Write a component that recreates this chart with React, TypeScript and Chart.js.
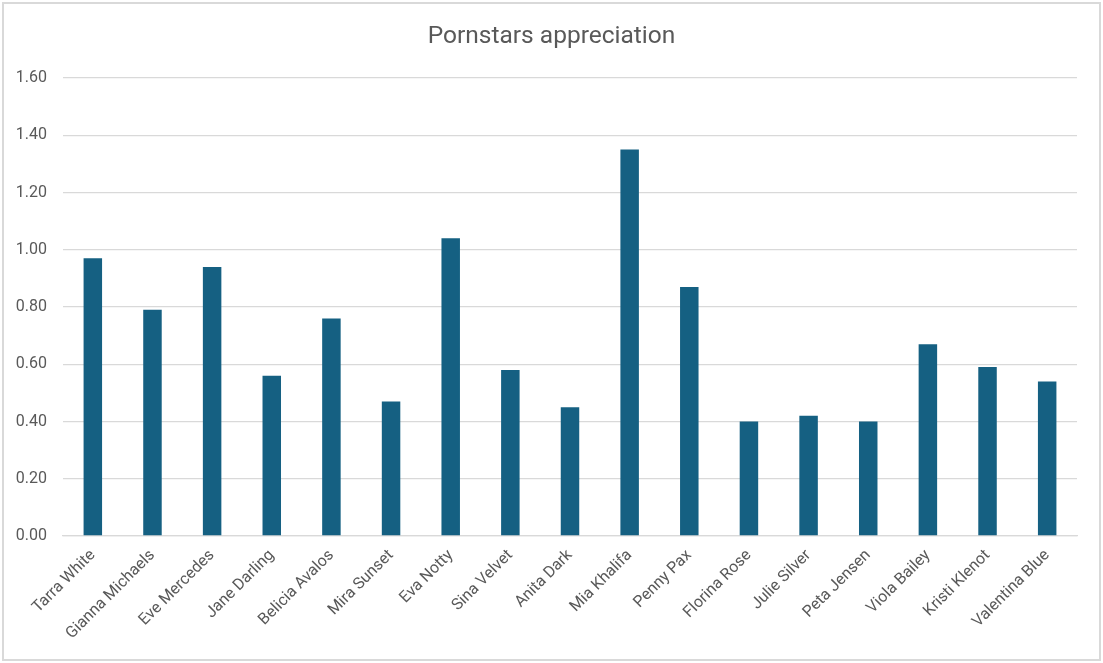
import React, { useEffect, useRef } from "react";
import { Chart, registerables } from "chart.js";

Chart.register(...registerables);

// Performers shown along the category axis
const performers: string[] = [
  "Tarra White",
  "Gianna Michaels",
  "Eve Mercedes",
  "Jane Darling",
  "Belicia Avalos",
  "Mira Sunset",
  "Eva Notty",
  "Sina Velvet",
  "Anita Dark",
  "Mia Khalifa",
  "Penny Pax",
  "Florina Rose",
  "Julie Silver",
  "Peta Jensen",
  "Viola Bailey",
  "Kristi Klenot",
  "Valentina Blue",
];

// Appreciation score per performer
const appreciation: number[] = [
  0.97, 0.79, 0.94, 0.56, 0.76, 0.47, 1.04, 0.58, 0.45, 1.35, 0.87, 0.4, 0.42,
  0.4, 0.67, 0.59, 0.54,
];

// Value axis range and step
const axisMin = 0;
const axisMax = 1.6;
const axisStep = 0.2;

const chartTitle = "Pornstars appreciation";

const FONT = "Roboto, 'Liberation Sans', Arial, sans-serif";
const TEXT = "#595959";
const GRID = "#d9d9d9";
const BAR = "#156082";

export default function App() {
  const canvasRef = useRef<HTMLCanvasElement | null>(null);

  useEffect(() => {
    const canvas = canvasRef.current;
    if (!canvas) return;
    const chart = new Chart(canvas, {
      type: "bar",
      data: {
        labels: performers,
        datasets: [
          {
            data: appreciation,
            backgroundColor: BAR,
            borderWidth: 0,
            categoryPercentage: 1,
            barPercentage: 0.31,
          },
        ],
      },
      options: {
        responsive: false,
        animation: false,
        devicePixelRatio: 1,
        layout: { padding: 0 },
        plugins: {
          legend: { display: false },
          tooltip: { enabled: false },
          title: {
            display: true,
            text: chartTitle,
            color: TEXT,
            font: { family: FONT, size: 24.5, weight: "normal" },
            padding: { top: 22, bottom: 26.6 },
          },
        },
        scales: {
          y: {
            min: axisMin,
            max: axisMax,
            ticks: {
              stepSize: axisStep,
              color: TEXT,
              font: { family: FONT, size: 16 },
              padding: 16,
              callback: (v: any) => Number(v).toFixed(2),
            },
            grid: { color: GRID, lineWidth: 1.3, drawTicks: false },
            border: { display: false },
            afterFit: (s: any) => {
              s.width = 63;
            },
          },
          // empty right-hand gutter so the plot ends short of the card edge
          gutter: {
            type: "linear",
            position: "right",
            display: true,
            ticks: { display: false },
            grid: { display: false, drawTicks: false },
            border: { display: false },
            afterFit: (s: any) => {
              s.width = 26;
            },
          },
          x: {
            grid: { display: false, drawTicks: false },
            border: { color: GRID, width: 1.3 },
            ticks: {
              color: TEXT,
              font: { family: FONT, size: 16 },
              minRotation: 45,
              maxRotation: 45,
              autoSkip: false,
              padding: 10,
            },
            afterFit: (s: any) => {
              s.height = 127;
            },
          },
        },
      },
    });
    return () => chart.destroy();
  }, []);

  return (
    <div
      style={{
        position: "absolute",
        left: 0,
        top: 0,
        width: 1103,
        height: 663,
        background: "#ffffff",
      }}
    >
      <div
        style={{
          position: "absolute",
          left: 2,
          top: 2,
          width: 1099,
          height: 659,
          boxSizing: "border-box",
          border: `2px solid ${GRID}`,
        }}
      />
      <canvas
        ref={canvasRef}
        width={1103}
        height={663}
        style={{ position: "absolute", left: 0, top: 0, width: 1103, height: 663 }}
      />
    </div>
  );
}
